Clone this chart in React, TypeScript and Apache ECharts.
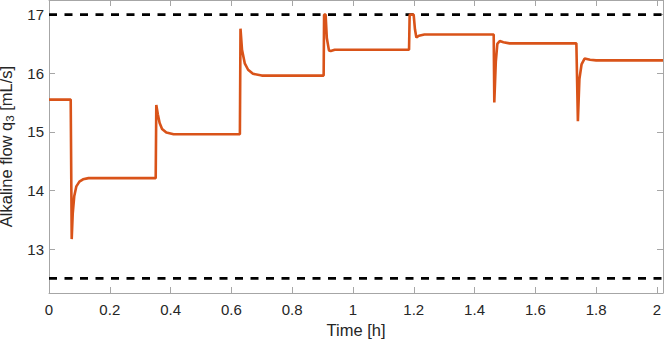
import React, { useEffect, useRef } from "react";
import * as echarts from "echarts";

const timeH = [
  0, 0.0714, 0.0747, 0.078, 0.083, 0.09, 0.1, 0.112, 0.13,
  0.351, 0.353, 0.358, 0.364, 0.372, 0.386, 0.41,
  0.628, 0.63, 0.635, 0.644, 0.655, 0.671, 0.7,
  0.9036, 0.905, 0.91, 0.914, 0.921, 0.927, 0.94,
  1.1845, 1.1865, 1.1997, 1.204, 1.2086, 1.217, 1.235,
  1.463, 1.465, 1.47, 1.475, 1.483, 1.495, 1.515,
  1.735, 1.74, 1.745, 1.752, 1.762, 1.78, 1.8,
  2.02,
];
const flowQ3 = [
  15.55, 15.55, 13.17, 13.6, 13.9, 14.07, 14.15, 14.19, 14.21,
  14.21, 15.46, 15.3, 15.15, 15.05, 14.99, 14.96,
  14.96, 16.76, 16.4, 16.17, 16.06, 15.99, 15.96,
  15.96, 17.0, 17.0, 16.6, 16.39, 16.38, 16.4,
  16.4, 17.0, 17.0, 16.75, 16.61, 16.64, 16.66,
  16.66, 15.5, 16.2, 16.5, 16.55, 16.53, 16.51,
  16.51, 15.18, 15.9, 16.15, 16.25, 16.23, 16.22,
  16.22,
];
const upperLimit = 17;
const lowerLimit = 12.5;
const xTicks = [0, 0.2, 0.4, 0.6, 0.8, 1, 1.2, 1.4, 1.6, 1.8, 2];
const yTicks = [13, 14, 15, 16, 17];
const xRange = [0, 2.02];
const yRange = [12.25, 17.25];

const FONT = "Liberation Sans, Arial, Helvetica, sans-serif";
const AXIS_COLOR = "#a6a6a6";
const TEXT_COLOR = "#262626";
const FS = 15;
const NAME_FS = 16.5;

export default function App() {
  const ref = useRef<HTMLDivElement>(null);
  useEffect(() => {
    if (!ref.current) return;
    const chart = echarts.init(ref.current, null, { renderer: "svg" });
    const axisCommon = (ticks: number[]) => ({
      type: "value" as const,
      axisLine: { show: true, onZero: false, lineStyle: { color: AXIS_COLOR, width: 1 } },
      axisTick: { show: true, inside: true, length: 6, customValues: ticks, lineStyle: { color: AXIS_COLOR, width: 1 } },
      splitLine: { show: false },
    });
    const curve = timeH.map((t, i) => [t, flowQ3[i]]);
    chart.setOption({
      animation: false,
      backgroundColor: "#ffffff",
      grid: { left: 49, right: 1, top: 0, bottom: 47, containLabel: false, outerBoundsMode: "none" },
      xAxis: [
        {
          ...axisCommon(xTicks),
          min: xRange[0],
          max: xRange[1],
          position: "bottom",
          axisLabel: { customValues: xTicks, color: TEXT_COLOR, fontSize: FS, fontFamily: FONT, margin: 9 },
          name: "Time [h]",
          nameLocation: "middle",
          nameGap: 27,
          nameTextStyle: { color: TEXT_COLOR, fontSize: NAME_FS, fontFamily: FONT },
        },
        {
          ...axisCommon(xTicks),
          min: xRange[0],
          max: xRange[1],
          position: "top",
          axisLabel: { show: false },
        },
      ],
      yAxis: [
        {
          ...axisCommon(yTicks),
          min: yRange[0],
          max: yRange[1],
          position: "left",
          axisLabel: { customValues: yTicks, color: TEXT_COLOR, fontSize: FS, fontFamily: FONT, margin: 5 },
          name: "{main|Alkaline flow q}{sub|3}{main| [mL/s]}",
          nameLocation: "middle",
          nameGap: 30,
          nameTextStyle: {
            color: TEXT_COLOR,
            fontSize: NAME_FS,
            fontFamily: FONT,
            rich: {
              main: { fontSize: NAME_FS, fontFamily: FONT, color: TEXT_COLOR, lineHeight: 16 },
              sub: { fontSize: 11.5, fontFamily: FONT, color: TEXT_COLOR, lineHeight: 8, padding: [8, 0, 0, 0] },
            },
          },
        },
        {
          ...axisCommon(yTicks),
          min: yRange[0],
          max: yRange[1],
          position: "right",
          axisLabel: { show: false },
        },
      ],
      series: [
        {
          type: "line",
          data: [[xRange[0], upperLimit], [xRange[1], upperLimit]],
          symbol: "none",
          lineStyle: { color: "#000000", width: 2.6, type: [8, 7.5] },
          silent: true,
        },
        {
          type: "line",
          data: [[xRange[0], lowerLimit], [xRange[1], lowerLimit]],
          symbol: "none",
          lineStyle: { color: "#000000", width: 2.6, type: [8, 7.5] },
          silent: true,
        },
        {
          type: "line",
          data: curve,
          symbol: "none",
          lineStyle: { color: "#D95319", width: 2.6 },
          silent: true,
        },
      ],
    });
    return () => chart.dispose();
  }, []);
  return (
    <div
      ref={ref}
      style={{ position: "fixed", left: 0, top: 0, width: 664, height: 340, background: "#fff" }}
    />
  );
}
